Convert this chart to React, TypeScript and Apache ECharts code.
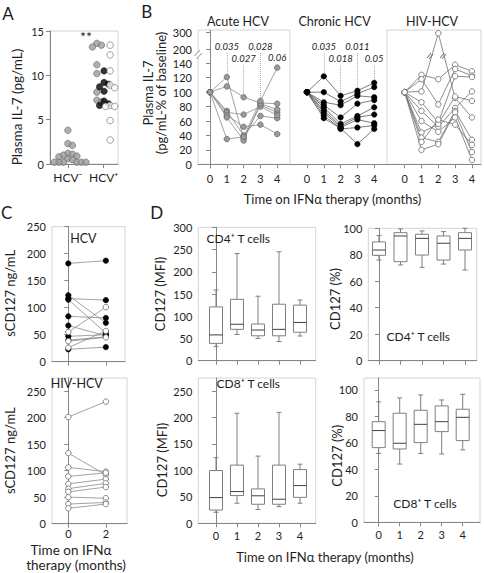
import React, { useEffect, useRef } from "react";
import * as echarts from "echarts";

const FONT = "Lato, 'Open Sans', 'DejaVu Sans', sans-serif";
const AXIS = "#868686";
const INK = "#1e1e1e";
const FRAME = "#d4d4d4";

// ---------- Panel A: plasma IL-7 (pg/mL) ----------
const aCategories = ["HCV⁻", "HCV⁺"];
const aTicks = [0, 5, 10, 15];
const aHcvNeg = [3.8, 2.3, 2.1, 1.2, 1.1, 1.0, 0.9, 0.8, 0.6, 0.5, 0.2, 0.2, 0.2, 0.2, 0.2, 0.2, 0.2];
const aHcvPosAcute = [13.6, 13.4, 13.2, 11.2, 10.2, 8.1, 7.2, 7.0];
const aHcvPosChronic = [10.5, 9.2, 9.0, 8.7, 8.2, 7.1, 6.8, 6.6];
const aHcvPosHiv = [13.4, 12.3, 10.5, 8.9, 8.6, 6.6, 6.5, 6.5, 4.9, 2.7];

// ---------- Panel B: plasma IL-7, % of baseline ----------
const bMonths = [0, 1, 2, 3, 4];
const bTicks = [0, 20, 40, 60, 80, 100, 120, 140, 200, 300];
const bAcute = [
  [100, 121, 36, 82, 72],
  [100, 108, 93, 85, 84],
  [100, 74, 40, 67, 64],
  [100, 72, 69, 80, 68],
  [100, 68, 52, 55, 42],
  [100, 65, 33, 84, 76],
  [100, 35, 38, 88, 134],
];
const bChronic = [
  [100, 122, 95, 102, 113],
  [100, 100, 87, 98, 107],
  [100, 86, 82, 95, 93],
  [100, 82, 65, 84, 89],
  [100, 79, 56, 67, 79],
  [100, 75, 53, 65, 69],
  [100, 72, 51, 62, 57],
  [100, 68, 49, 51, 54],
  [100, 64, 50, 28, 49],
];
const bHiv = [
  [100, 101, 296, 92, 65],
  [100, 124, 118, 138, 129],
  [100, 118, 83, 132, 123],
  [100, 86, 58, 122, 121],
  [100, 74, 52, 78, 101],
  [100, 44, 56, 94, 88],
  [100, 37, 31, 74, 34],
  [100, 31, 62, 55, 27],
  [100, 20, 28, 72, 17],
  [100, 60, 45, 65, 6],
];
const bAcuteP = ["0.035", "0.027", "0.028", "0.06"];
const bChronicP = ["0.035", "0.018", "0.011", "0.05"];

// ---------- Panel C: sCD127 (ng/mL) ----------
const cMonths = [0, 2];
const cTicks = [0, 50, 100, 150, 200, 250];
const cHcvFilledM0 = [182, 123, 117, 115, 84, 67, 47, 40, 23];
const cHcvFilledM2 = [187, 72, 114, 53, 81, 48, 50, 46, 27];
const cHcvOpenM0 = [55, 38, 26];
const cHcvOpenM2 = [101, 45, 57];
const cHivM0 = [201, 133, 106, 89, 75, 66, 60, 50, 37, 29];
const cHivM2 = [230, 92, 98, 96, 84, 76, 69, 48, 40, 37];

// ---------- Panel D: CD127 expression [min, Q1, median, Q3, max] ----------
const dMonths = [0, 1, 2, 3, 4];
const dMfiTicks = [0, 50, 100, 150, 200, 250, 300];
const dPctTicks = [0, 20, 40, 60, 80, 100];
const dCd4Mfi = [
  [31.5, 39, 58, 121, 159],
  [59, 70.5, 82, 138, 241],
  [50, 56, 69, 82.5, 145],
  [43, 56, 70.5, 127, 245],
  [55.5, 64, 86, 125, 136.5],
];
const dCd4Pct = [
  [76, 79.6, 83.6, 89.7, 94.5],
  [72.3, 74.8, 94.2, 96.7, 99.5],
  [70.5, 79.8, 92.4, 95.5, 98],
  [73, 76, 88.7, 94.2, 97.5],
  [68.5, 83.6, 92.4, 96.7, 100],
];
const dCd8Mfi = [
  [20.8, 25, 48.6, 99.7, 124],
  [38, 52.4, 60, 110, 208],
  [26, 36, 52, 65, 127],
  [31.5, 36, 45.5, 110, 209.6],
  [38, 49, 71.3, 101.5, 111.7],
];
const dCd8Pct = [
  [52, 56.4, 69.3, 76, 91],
  [44, 55.4, 59.7, 82.4, 94],
  [52, 60.2, 74, 84.6, 96.2],
  [51.6, 68.5, 76, 87.9, 92.4],
  [54.7, 61.7, 79.3, 85.4, 96.7],
];

// broken y scale of panel B
const brk = (v: number) => (v <= 140 ? v : v <= 200 ? 140 + ((v - 140) * 19) / 60 : 159 + (v - 200) * 0.236);
const unbrk = (t: number) => (t <= 140 ? t : t <= 159 ? 140 + ((t - 140) * 60) / 19 : 200 + (t - 159) / 0.236);

const GRAY_DOT = { color: "#9b9b9b", borderColor: "#6a6a6a", borderWidth: 0.8 };
const BLACK_DOT = { color: "#000", borderColor: "#000", borderWidth: 0.5 };
const OPEN_DOT = { color: "#fff", borderColor: "#777", borderWidth: 0.9 };

function swarm(values: number[], center: number, pxX: number, pxY: number, step: number) {
  const placed: number[][] = [];
  return values.map((v) => {
    const py = v * pxY;
    for (let k = 0; k < 60; k++) {
      const off = k === 0 ? 0 : (k % 2 ? 1 : -1) * Math.ceil(k / 2) * step;
      const px = center * pxX + off;
      if (placed.every((p) => Math.hypot(p[0] - px, p[1] - py) >= step)) {
        placed.push([px, py]);
        return [px / pxX, v];
      }
    }
    return [center, v];
  });
}

const near = (list: number[], v: number) => list.some((t) => Math.abs(t - v) < 1e-6);

function yAx(gi: number, min: number, max: number, ticks: number[], fmt?: (v: number) => string) {
  return {
    type: "value",
    gridIndex: gi,
    min,
    max,
    axisLine: { show: true, lineStyle: { color: AXIS } },
    axisTick: { show: true, length: 4, lineStyle: { color: AXIS }, customValues: ticks },
    axisLabel: {
      show: true,
      customValues: ticks,
      formatter: (v: number) => (near(ticks, v) ? (fmt ? fmt(v) : String(v)) : ""),
      fontFamily: FONT,
      fontSize: 11,
      color: INK,
      margin: 6,
    },
    splitLine: { show: false },
  };
}
function yHidden(gi: number, min: number, max: number) {
  return { type: "value", gridIndex: gi, min, max, show: false, splitLine: { show: false } };
}
function xAx(gi: number, min: number, max: number, ticks: number[], fmt: (v: number) => string, labels: boolean, margin = 7, size = 11) {
  return {
    type: "value",
    gridIndex: gi,
    min,
    max,
    axisLine: { show: true, onZero: false, lineStyle: { color: AXIS } },
    axisTick: { show: true, length: 4, lineStyle: { color: AXIS }, customValues: ticks },
    axisLabel: {
      show: labels,
      customValues: ticks,
      formatter: (v: number) => (near(ticks, v) ? fmt(v) : ""),
      fontFamily: FONT,
      fontSize: size,
      color: INK,
      margin,
    },
    splitLine: { show: false },
  };
}

function bSeries(group: number[][], gi: number, dot: any, lineColor: string, pvals: string[]) {
  const maxes = bMonths.map((_, i) => Math.max(...group.map((p) => p[i])));
  return group.map((pt, idx) => ({
    type: "line",
    xAxisIndex: gi,
    yAxisIndex: gi,
    data: bMonths.map((m, i) => [m, brk(pt[i])]),
    symbol: "circle",
    symbolSize: 5.5,
    itemStyle: dot,
    lineStyle: { color: lineColor, width: 0.8 },
    z: 3,
    markLine:
      idx === 0 && pvals.length
        ? {
            silent: true,
            symbol: ["none", "none"],
            lineStyle: { color: "#a8a8a8", width: 1, type: "dotted" },
            label: {
              show: true,
              position: "end",
              distance: 2,
              formatter: "{b}",
              fontFamily: FONT,
              fontStyle: "italic",
              fontSize: 9.5,
              color: INK,
            },
            data: pvals.map((p, k) => {
              const m = k + 1;
              const start = brk(maxes[m]) + 4;
              const end = Math.max(k % 2 === 0 ? 154.3 : 137.2, start + 1);
              return [
                { name: p, coord: [m, start] },
                { coord: [m, end] },
              ];
            }),
          }
        : undefined,
  }));
}

function cSeries(m0: number[], m2: number[], gi: number, dot: any) {
  return m0.map((v, i) => ({
    type: "line",
    xAxisIndex: gi,
    yAxisIndex: gi,
    data: [
      [cMonths[0], v],
      [cMonths[1], m2[i]],
    ],
    symbol: "circle",
    symbolSize: 5.5,
    itemStyle: dot,
    lineStyle: { color: "#8a8a8a", width: 0.8 },
  }));
}

function boxRender(_params: any, api: any) {
  const x = api.value(0);
  const [lo, q1, md, q3, hi] = [1, 2, 3, 4, 5].map((d) => api.coord([x, api.value(d)]));
  const cx = lo[0];
  const hw = 6.5;
  const cw = 2.5;
  const st = { stroke: "#7f7f7f", lineWidth: 1, fill: "none" };
  return {
    type: "group",
    children: [
      { type: "line", shape: { x1: cx, y1: lo[1], x2: cx, y2: q1[1] }, style: st },
      { type: "line", shape: { x1: cx, y1: q3[1], x2: cx, y2: hi[1] }, style: st },
      { type: "line", shape: { x1: cx - cw, y1: lo[1], x2: cx + cw, y2: lo[1] }, style: st },
      { type: "line", shape: { x1: cx - cw, y1: hi[1], x2: cx + cw, y2: hi[1] }, style: st },
      { type: "rect", shape: { x: cx - hw, y: q3[1], width: 2 * hw, height: q1[1] - q3[1] }, style: { stroke: "#7f7f7f", lineWidth: 1, fill: "#fff" } },
      { type: "line", shape: { x1: cx - hw, y1: md[1], x2: cx + hw, y2: md[1] }, style: { stroke: "#404040", lineWidth: 1 } },
    ],
  };
}
function dSeries(stats: number[][], gi: number) {
  return {
    type: "custom",
    xAxisIndex: gi,
    yAxisIndex: gi,
    data: dMonths.map((m, i) => [m, ...stats[i]]),
    encode: { x: 0, y: [1, 2, 3, 4, 5] },
    renderItem: boxRender,
  };
}

function txt(text: string, x: number, y: number, size: number, rot = 0, italic = false) {
  return {
    type: "text",
    x,
    y,
    rotation: rot,
    silent: true,
    z: 10,
    style: {
      text,
      fill: INK,
      fontFamily: FONT,
      fontSize: size,
      fontStyle: italic ? "italic" : "normal",
      align: "center",
      verticalAlign: "middle",
      textAlign: "center",
      textVerticalAlign: "middle",
    },
  };
}
function seg(x1: number, y1: number, x2: number, y2: number, color = "#555") {
  return { type: "line", silent: true, z: 10, shape: { x1, y1, x2, y2 }, style: { stroke: color, lineWidth: 0.9 } };
}

function buildOption() {
  const grids = [
    { left: 50, top: 31, width: 68, height: 133 },
    { left: 198, top: 30, width: 92, height: 134.3 },
    { left: 290, top: 30, width: 97, height: 134.3 },
    { left: 387, top: 30, width: 94, height: 134.3 },
    { left: 52, top: 226.7, width: 73, height: 135 },
    { left: 52, top: 378, width: 75, height: 145.7 },
    { left: 198.3, top: 227.3, width: 117.4, height: 133.4 },
    { left: 368.3, top: 228.3, width: 108.4, height: 132.4 },
    { left: 198.3, top: 378, width: 117.4, height: 145.3 },
    { left: 364, top: 378, width: 116, height: 144.3 },
  ].map((g, i) => ({ ...g, show: i !== 2, borderColor: FRAME, borderWidth: 1, backgroundColor: "transparent" }));

  const S = String;
  const xAxis = [
    xAx(0, 0.5, 2.4, [1, 2], (v) => (v < 1.5 ? aCategories[0] : aCategories[1]), true, 7, 12),
    xAx(1, -0.714, 4.76, bMonths, S, true, 9),
    xAx(2, -1.01, 4.76, bMonths, S, true, 9),
    xAx(3, -1.05, 4.54, bMonths, S, true, 9),
    xAx(4, -0.87, 3.02, cMonths, S, false),
    xAx(5, -0.87, 3.13, cMonths, S, true, 4),
    xAx(6, -0.843, 4.748, dMonths, S, false),
    xAx(7, -0.498, 4.544, dMonths, S, false),
    xAx(8, -0.843, 4.748, dMonths, S, true, 7),
    xAx(9, -0.7, 4.824, dMonths, S, true, 7),
  ];
  const yAxis = [
    yAx(0, 0, 15, aTicks),
    yAx(1, 0, 186.2, bTicks.map(brk), (v) => String(Math.round(unbrk(v)))),
    yHidden(2, 0, 186.2),
    yHidden(3, 0, 186.2),
    yAx(4, 0, 250, cTicks),
    yAx(5, 0, 274.5, cTicks.slice(0, 6)),
    yAx(6, 0, 300, dMfiTicks),
    yAx(7, 0, 100, dPctTicks),
    yAx(8, 0, 274.6, dMfiTicks.slice(0, 6)),
    yAx(9, 0, 109, dPctTicks),
  ];

  const pxX = 68 / 1.9;
  const pxY = 133 / 15;
  const series: any[] = [
    { type: "scatter", xAxisIndex: 0, yAxisIndex: 0, data: swarm(aHcvNeg, 1.0, pxX, pxY, 4.5), symbolSize: 6.5, itemStyle: GRAY_DOT },
    { type: "scatter", xAxisIndex: 0, yAxisIndex: 0, data: swarm(aHcvPosAcute, 1.81, pxX, pxY, 4.5), symbolSize: 6.5, itemStyle: GRAY_DOT },
    { type: "scatter", xAxisIndex: 0, yAxisIndex: 0, data: swarm(aHcvPosChronic, 2.01, pxX, pxY, 4.5), symbolSize: 6.5, itemStyle: BLACK_DOT },
    { type: "scatter", xAxisIndex: 0, yAxisIndex: 0, data: swarm(aHcvPosHiv, 2.18, pxX, pxY, 4.5), symbolSize: 6.5, itemStyle: OPEN_DOT },
    ...bSeries(bAcute, 1, GRAY_DOT, "#8a8a8a", bAcuteP),
    ...bSeries(bChronic, 2, BLACK_DOT, "#5a5a5a", bChronicP),
    ...bSeries(bHiv, 3, OPEN_DOT, "#707070", []),
    ...cSeries(cHcvFilledM0, cHcvFilledM2, 4, BLACK_DOT),
    ...cSeries(cHcvOpenM0, cHcvOpenM2, 4, OPEN_DOT),
    ...cSeries(cHivM0, cHivM2, 5, OPEN_DOT),
    dSeries(dCd4Mfi, 6),
    dSeries(dCd4Pct, 7),
    dSeries(dCd8Mfi, 8),
    dSeries(dCd8Pct, 9),
  ];

  const P = Math.PI / 2;
  const graphic = [
    txt("A", 8, 13, 17),
    txt("B", 146.7, 11, 17),
    txt("C", 6.7, 212.5, 17),
    txt("D", 156.7, 212.5, 17),
    txt("**", 86, 36, 14),
    txt("Acute HCV", 238, 21, 12.5),
    txt("Chronic HCV", 334.5, 21, 12.5),
    txt("HIV-HCV", 432, 21, 12.5),
    txt("HCV", 83.3, 238.3, 12.5),
    txt("HIV-HCV", 76.7, 383.3, 12.5),
    txt("CD4⁺ T cells", 238.3, 238.3, 12),
    txt("CD4⁺ T cells", 418.3, 336.7, 12),
    txt("CD8⁺ T cells", 248.3, 383.3, 12),
    txt("CD8⁺ T cells", 425, 503.3, 12),
    txt("Plasma IL-7 (pg/mL)", 17, 107, 13.5, P),
    txt("Plasma IL-7", 148.3, 93, 13, P),
    txt("(pg/mL-% of baseline)", 160.7, 93, 13, P),
    txt("sCD127 ng/mL", 10, 293.3, 13, P),
    txt("sCD127 ng/mL", 10, 450.7, 13, P),
    txt("CD127 (MFI)", 160, 294, 13, P),
    txt("CD127 (MFI)", 161.7, 460, 13, P),
    txt("CD127 (%)", 335, 299, 13, P),
    txt("CD127 (%)", 336.7, 455.7, 13, P),
    txt("Time on IFNα therapy (months)", 332.5, 199, 13),
    txt("Time on IFNα therapy (months)", 325, 557, 13),
    txt("Time on IFNα", 71, 549.5, 13.5),
    txt("therapy (months)", 76, 564.5, 13.5),
    // axis break marks
    { type: "rect", silent: true, z: 9, shape: { x: 196, y: 52, width: 5, height: 5 }, style: { fill: "#fff" } },
    seg(194.5, 56, 200, 50, AXIS),
    seg(196.5, 59, 202, 53, AXIS),
    seg(427, 58, 431, 53),
    seg(429, 59, 433, 54),
    seg(440, 58, 444, 53),
    seg(442, 59, 446, 54),
  ];

  return {
    animation: false,
    backgroundColor: "#fff",
    textStyle: { fontFamily: FONT },
    grid: grids,
    xAxis,
    yAxis,
    series,
    graphic,
  };
}

export default function App() {
  const ref = useRef<HTMLDivElement>(null);
  useEffect(() => {
    if (!ref.current) return;
    const chart = echarts.init(ref.current, undefined, { renderer: "svg" });
    chart.setOption(buildOption() as any);
    return () => chart.dispose();
  }, []);
  return <div ref={ref} style={{ position: "absolute", left: 0, top: 0, width: 484, height: 573, background: "#fff" }} />;
}
